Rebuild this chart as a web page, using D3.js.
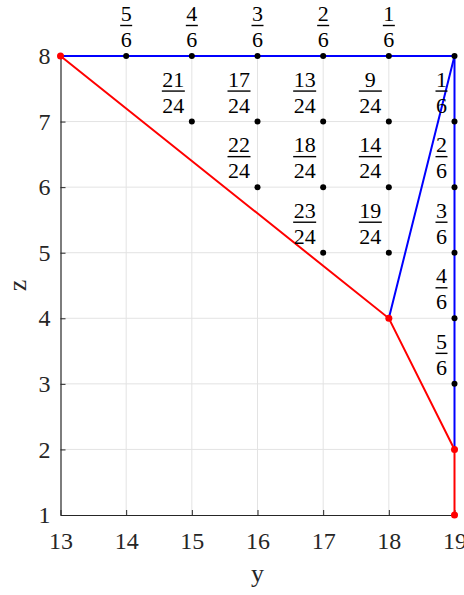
<!DOCTYPE html>
<html>
<head>
<meta charset="utf-8">
<script src="https://cdn.jsdelivr.net/npm/d3@7"></script>
<style>
  html, body { margin: 0; padding: 0; background: #fff; }
  svg { display: block; }
</style>
</head>
<body>
<svg id="chart" width="464" height="595"></svg>
<script>
const FONT = "'Liberation Serif', 'Times New Roman', Times, 'DejaVu Serif', serif";

// Axis ranges and ticks
const yTicks = [13, 14, 15, 16, 17, 18, 19];
const zTicks = [1, 2, 3, 4, 5, 6, 7, 8];

// Red path with marker vertices
const redPath = [[13, 8], [18, 4], [19, 2], [19, 1]];
// Blue paths
const bluePathA = [[18, 4], [19, 8], [13, 8]];
const bluePathB = [[19, 8], [19, 2]];

// Black grid points
const dots = [
  [14, 8], [15, 8], [16, 8], [17, 8], [18, 8], [19, 8],
  [15, 7], [16, 7], [17, 7], [18, 7], [19, 7],
  [16, 6], [17, 6], [18, 6], [19, 6],
  [17, 5], [18, 5], [19, 5],
  [19, 4], [19, 3]
];

// Fraction labels above the top row (centered on the point)
const topLabels = [
  { y: 14, z: 8, num: "5", den: "6" },
  { y: 15, z: 8, num: "4", den: "6" },
  { y: 16, z: 8, num: "3", den: "6" },
  { y: 17, z: 8, num: "2", den: "6" },
  { y: 18, z: 8, num: "1", den: "6" }
];
// Fraction labels to the upper-left of interior points
const innerLabels = [
  { y: 15, z: 7, num: "21", den: "24" },
  { y: 16, z: 7, num: "17", den: "24" },
  { y: 17, z: 7, num: "13", den: "24" },
  { y: 18, z: 7, num: "9", den: "24" },
  { y: 19, z: 7, num: "1", den: "6" },
  { y: 16, z: 6, num: "22", den: "24" },
  { y: 17, z: 6, num: "18", den: "24" },
  { y: 18, z: 6, num: "14", den: "24" },
  { y: 19, z: 6, num: "2", den: "6" },
  { y: 17, z: 5, num: "23", den: "24" },
  { y: 18, z: 5, num: "19", den: "24" },
  { y: 19, z: 5, num: "3", den: "6" },
  { y: 19, z: 4, num: "4", den: "6" },
  { y: 19, z: 3, num: "5", den: "6" }
];

const svg = d3.select("#chart");
const x = d3.scaleLinear().domain([13, 19]).range([60.5, 454.5]);
const y = d3.scaleLinear().domain([1, 8]).range([515, 56]);
const axisColor = "#262626";

// Grid
const grid = svg.append("g").attr("stroke", "#e3e3e3").attr("stroke-width", 1);
grid.selectAll("line.v").data(yTicks.slice(1)).enter().append("line")
  .attr("x1", d => x(d)).attr("x2", d => x(d)).attr("y1", y(1)).attr("y2", y(8));
grid.selectAll("line.h").data(zTicks.slice(1)).enter().append("line")
  .attr("x1", x(13)).attr("x2", x(19)).attr("y1", d => y(d)).attr("y2", d => y(d));

// Axes (ticks pointing inward)
const xAxis = d3.axisBottom(x).tickValues(yTicks).tickFormat(d3.format("d"))
  .tickSize(-5).tickPadding(17).tickSizeOuter(0);
const yAxis = d3.axisLeft(y).tickValues(zTicks).tickFormat(d3.format("d"))
  .tickSize(-5).tickPadding(10).tickSizeOuter(0);

const gx = svg.append("g").attr("transform", `translate(0,${y(1)})`).call(xAxis);
const gy = svg.append("g").attr("transform", `translate(${x(13)},0)`).call(yAxis);
[gx, gy].forEach(g => {
  g.attr("font-family", FONT).attr("font-size", 24);
  g.select(".domain").attr("stroke", axisColor).attr("stroke-width", 1.2);
  g.selectAll(".tick line").attr("stroke", axisColor).attr("stroke-width", 1);
  g.selectAll(".tick text").attr("fill", axisColor);
});
gx.selectAll(".tick text").attr("dy", "0.71em");

// Axis titles
svg.append("text").attr("x", x(16)).attr("y", 582).attr("text-anchor", "middle")
  .attr("font-family", FONT).attr("font-size", 26).attr("fill", axisColor).text("y");
svg.append("text").attr("transform", `translate(26,${y(4.5)}) rotate(-90)`)
  .attr("text-anchor", "middle").attr("font-family", FONT).attr("font-size", 26)
  .attr("fill", axisColor).text("z");

// Lines
const line = d3.line().x(d => x(d[0])).y(d => y(d[1]));
svg.append("path").datum(bluePathA).attr("d", line).attr("fill", "none")
  .attr("stroke", "#0000ff").attr("stroke-width", 2);
svg.append("path").datum(bluePathB).attr("d", line).attr("fill", "none")
  .attr("stroke", "#0000ff").attr("stroke-width", 2);
svg.append("path").datum(redPath).attr("d", line).attr("fill", "none")
  .attr("stroke", "#ff0000").attr("stroke-width", 2);

// Black points
svg.append("g").selectAll("circle").data(dots).enter().append("circle")
  .attr("cx", d => x(d[0])).attr("cy", d => y(d[1])).attr("r", 3).attr("fill", "#000");

// Red markers
svg.append("g").selectAll("circle").data(redPath).enter().append("circle")
  .attr("cx", d => x(d[0])).attr("cy", d => y(d[1])).attr("r", 3.5).attr("fill", "#ff0000");

// Fraction drawing: numerator, bar, denominator
function fraction(g, cx, cy, num, den, anchor) {
  const fs = 22;
  const n = Math.max(num.length, den.length);
  const w = n * fs * 0.5 + 1;
  const mid = anchor === "end" ? cx - w / 2 : cx;
  const grp = g.append("g").attr("fill", "#000").attr("font-family", FONT).attr("font-size", fs);
  grp.append("text").attr("x", mid).attr("y", cy - 35).attr("text-anchor", "middle").text(num);
  grp.append("line").attr("x1", mid - w / 2).attr("x2", mid + w / 2)
    .attr("y1", cy - 30.5).attr("y2", cy - 30.5).attr("stroke", "#000").attr("stroke-width", 1.4);
  grp.append("text").attr("x", mid).attr("y", cy - 9).attr("text-anchor", "middle").text(den);
}

const labels = svg.append("g");
topLabels.forEach(d => fraction(labels, x(d.y), y(d.z), d.num, d.den, "middle"));
innerLabels.forEach(d => fraction(labels, x(d.y) - 7, y(d.z), d.num, d.den, "end"));
</script>
</body>
</html>
